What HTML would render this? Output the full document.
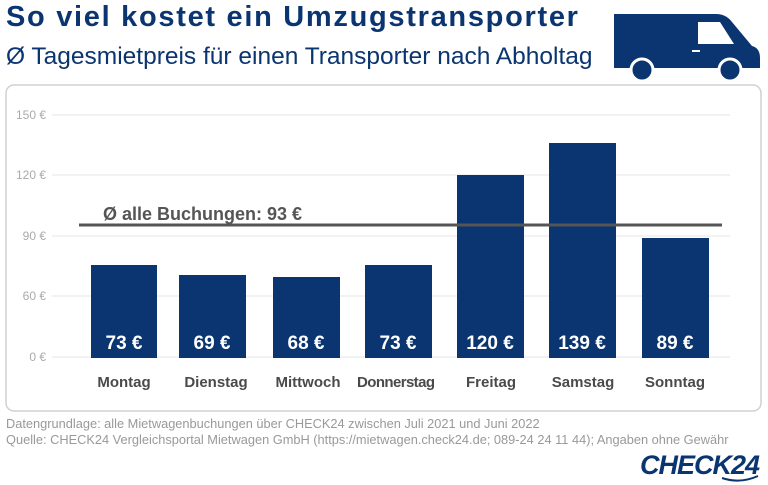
<!DOCTYPE html>
<html><head><meta charset="utf-8"><style>
body{margin:0;width:768px;height:485px;background:#fff;position:relative;overflow:hidden;font-family:"Liberation Sans",sans-serif}
.a{position:absolute;white-space:nowrap}
</style></head><body>
<div class="a" style="left:6px;top:1px;font-size:29px;font-weight:bold;color:#0a3570;letter-spacing:1.7px">So viel kostet ein Umzugstransporter</div>
<div class="a" style="left:6px;top:43px;font-size:24.5px;color:#0a3570">Ø Tagesmietpreis für einen Transporter nach Abholtag</div>
<svg class="a" style="left:606px;top:6px" width="160" height="76" viewBox="0 0 160 76">
<path d="M8 8 H110 Q120 8 126 16 L146 40 Q154 42 154 52 V62 H8 Z" fill="#0a3570"/>
<path d="M92 16 H114 L128 38 H92 Z" fill="#fff"/>
<circle cx="36" cy="64" r="11" fill="#0a3570" stroke="#fff" stroke-width="3"/>
<circle cx="124" cy="64" r="11" fill="#0a3570" stroke="#fff" stroke-width="3"/>
<rect x="86" y="44" width="8" height="2" fill="#fff"/>
</svg>
<svg class="a" style="left:0;top:0" width="768" height="485">
<rect x="6" y="85" width="755" height="326" rx="8" fill="#fff" stroke="#d0d0d0" stroke-width="1.5"/>
<g stroke="#e6e6e6" stroke-width="1">
<line x1="52" x2="730" y1="115" y2="115"/><line x1="52" x2="730" y1="175" y2="175"/><line x1="52" x2="730" y1="236" y2="236"/><line x1="52" x2="730" y1="296" y2="296"/><line x1="52" x2="730" y1="357" y2="357"/></g>
<g font-size="12" fill="#aaa" text-anchor="end"><text x="46" y="119">150 €</text><text x="46" y="179">120 €</text><text x="46" y="240">90 €</text><text x="46" y="300">60 €</text><text x="46" y="361">0 €</text></g>
<g fill="#0a3570">
<rect x="91" y="265" width="66" height="93"/><rect x="179" y="275" width="67" height="83"/><rect x="273" y="277" width="67" height="81"/><rect x="365" y="265" width="67" height="93"/><rect x="457" y="175" width="67" height="183"/><rect x="549" y="143" width="67" height="215"/><rect x="642" y="238" width="67" height="120"/></g>
<g font-size="19" font-weight="bold" fill="#fff" text-anchor="middle">
<text x="124" y="349">73 €</text><text x="212" y="349">69 €</text><text x="306" y="349">68 €</text><text x="398" y="349">73 €</text><text x="490" y="349">120 €</text><text x="582" y="349">139 €</text><text x="675" y="349">89 €</text></g>
<g font-size="15" font-weight="bold" fill="#4a4a4a" text-anchor="middle">
<text x="124" y="387">Montag</text><text x="216" y="387">Dienstag</text><text x="308" y="387">Mittwoch</text><text x="396" y="387" textLength="78">Donnerstag</text><text x="491" y="387">Freitag</text><text x="583" y="387">Samstag</text><text x="675" y="387">Sonntag</text></g>
<line x1="79" x2="722" y1="225" y2="225" stroke="#555" stroke-width="3"/>
<text x="103" y="220" font-size="18" font-weight="bold" fill="#555">Ø alle Buchungen: 93 €</text>
<g font-size="12.8" fill="#999"><text x="6" y="428">Datengrundlage: alle Mietwagenbuchungen über CHECK24 zwischen Juli 2021 und Juni 2022</text><text x="6" y="444">Quelle: CHECK24 Vergleichsportal Mietwagen GmbH (https://mietwagen.check24.de; 089-24 24 11 44); Angaben ohne Gewähr</text></g>
<text x="640" y="474" font-size="27" font-weight="bold" font-style="italic" fill="#0a3570" letter-spacing="-1">CHECK24</text>
<path d="M722 478 Q740 484 758 476" stroke="#0a3570" stroke-width="2" fill="none"/>
</svg>
</body></html>
